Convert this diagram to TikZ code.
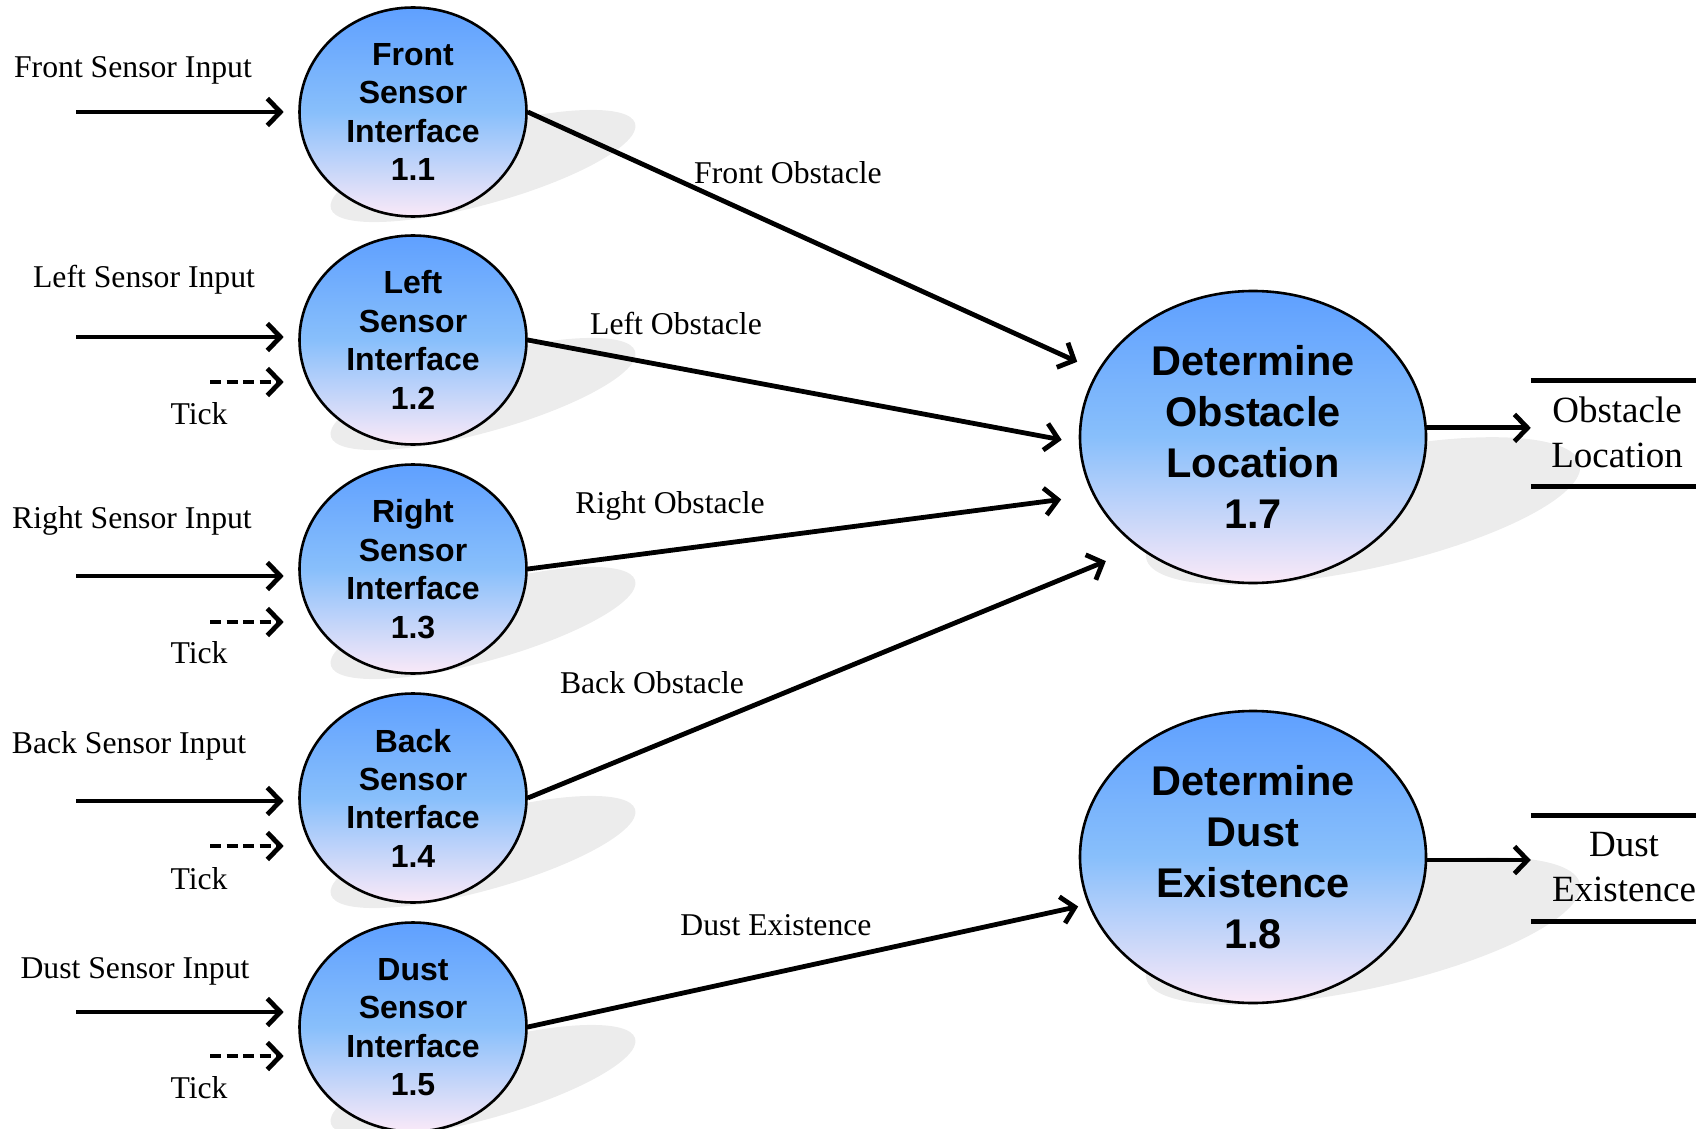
\documentclass[tikz,border=0pt]{standalone}
\usepackage{fontspec}
\setmainfont{Liberation Serif}
\setsansfont{Liberation Sans}
\usetikzlibrary{arrows.meta,shapes.geometric}

\definecolor{bubbletop}{RGB}{95,160,255}
\definecolor{bubblemid}{RGB}{136,191,251}
\definecolor{bubblebot}{RGB}{250,233,248}
\definecolor{shadowgray}{RGB}{236,236,236}

\tikzset{
  bubble/.style={ellipse, draw=black, line width=2.6pt, inner sep=0pt,
    top color=bubbletop, bottom color=bubblebot, middle color=bubblemid},
  smallbubble/.style={bubble, minimum width=227pt, minimum height=209pt},
  bigbubble/.style={bubble, minimum width=346pt, minimum height=292pt},
  smalltext/.style={font=\sffamily\bfseries\fontsize{32}{38.4}\selectfont, align=center, inner sep=0pt},
  bigtext/.style={font=\sffamily\bfseries\fontsize{41.5}{51}\selectfont, align=center, inner sep=0pt},
  lbl/.style={font=\fontsize{31.7}{38}\selectfont, inner sep=0pt},
  storetext/.style={font=\fontsize{37}{45}\selectfont, align=center, inner sep=0pt},
  flow/.style={line width=4.8pt, -{Straight Barb[length=13pt,width=27pt]}},
  tickflow/.style={flow, dash pattern=on 11pt off 5.5pt},
  storeline/.style={line width=4.8pt},
}

\begin{document}
\begin{tikzpicture}[x=1pt,y=-1pt]
\useasboundingbox (0,0) rectangle (1705,1129);

% drop shadows behind the processes
\foreach \cy in {112,340,569,798,1027}
  \fill[shadowgray, shift={(483,\cy+54)}, rotate=15.6] (0,0) ellipse [x radius=158, y radius=38];
\foreach \cy in {437,857}
  \fill[shadowgray, shift={(1363,\cy+74)}, rotate=12.3] (0,0) ellipse [x radius=222, y radius=58];

% sensor interface processes
\node[smallbubble] (p11) at (413,112) {};
\node[smalltext] (p11t) at (p11) {Front\\Sensor\\Interface\\1.1};
\node[smallbubble] (p12) at (413,340) {};
\node[smalltext] (p12t) at (p12) {Left\\Sensor\\Interface\\1.2};
\node[smallbubble] (p13) at (413,569) {};
\node[smalltext] (p13t) at (p13) {Right\\Sensor\\Interface\\1.3};
\node[smallbubble] (p14) at (413,798) {};
\node[smalltext] (p14t) at (p14) {Back\\Sensor\\Interface\\1.4};
\node[smallbubble] (p15) at (413,1027) {};
\node[smalltext] (p15t) at (p15) {Dust\\Sensor\\Interface\\1.5};

% determination processes
\node[bigbubble] (p17) at (1253,437) {};
\node[bigtext] (p17t) at (p17) {Determine\\Obstacle\\Location\\1.7};
\node[bigbubble] (p18) at (1253,857) {};
\node[bigtext] (p18t) at (p18) {Determine\\Dust\\Existence\\1.8};

% data stores
\node[minimum width=165pt, minimum height=105pt, inner sep=0pt] (s17) at (1613.5,433.5) {};
\draw[storeline] (s17.north west) -- (s17.north east);
\draw[storeline] (s17.south west) -- (s17.south east);
\node[storetext] (s17t) at (1617,432) {Obstacle\\Location};
\node[minimum width=165pt, minimum height=105pt, inner sep=0pt] (s18) at (1613.5,868.5) {};
\draw[storeline] (s18.north west) -- (s18.north east);
\draw[storeline] (s18.south west) -- (s18.south east);
\node[storetext] (s18t) at (1624,867) {Dust\\Existence};

% external inputs
\coordinate (i11) at (76,112);
\coordinate (i12) at (76,337);
\coordinate (i13) at (76,576);
\coordinate (i14) at (76,801);
\coordinate (i15) at (76,1012);
\coordinate (k12) at (210,382);
\coordinate (k13) at (210,622);
\coordinate (k14) at (210,846);
\coordinate (k15) at (210,1056);
\foreach \n in {11,12,13,14,15}
  \draw[flow, shorten >=14.5pt] (i\n) -- (i\n -| p\n.west);
\foreach \n in {12,13,14,15}
  \draw[tickflow, shorten >=14.5pt] (k\n) -- (k\n -| p\n.west);

\node[lbl] (l11) at (133,70) {Front Sensor Input};
\node[lbl] (l12) at (144,280) {Left Sensor Input};
\node[lbl] (l13) at (132,521) {Right Sensor Input};
\node[lbl] (l14) at (129,746) {Back Sensor Input};
\node[lbl] (l15) at (135,971) {Dust Sensor Input};
\node[lbl] (t12) at (199,414) {Tick};
\node[lbl] (t13) at (199,653) {Tick};
\node[lbl] (t14) at (199,879) {Tick};
\node[lbl] (t15) at (199,1088) {Tick};

% data flows between processes
\draw[flow, shorten >=22pt] (p11.east) -- (p17.157.6);
\draw[flow, shorten >=17.5pt] (p12.east) -- (p17.182.1);
\draw[flow, shorten >=32pt] (p13.east) -- (p17.200.9);
\draw[flow, shorten >=35pt] (p14.east) -- (p17.224.8);
\draw[flow, shorten >=10pt] (p15.east) -- (p18.196);

\node[lbl] (f1) at (788,173) {Front Obstacle};
\node[lbl] (f2) at (676,323) {Left Obstacle};
\node[lbl] (f3) at (670,506) {Right Obstacle};
\node[lbl] (f4) at (652,683) {Back Obstacle};
\node[lbl] (f5) at (776,925) {Dust Existence};

% outputs into the stores
\draw[flow] (p17.3.6) -- (p17.3.6 -| s17.west);
\draw[flow] (p18.-1.5) -- (p18.-1.5 -| s18.west);
\end{tikzpicture}
\end{document}
